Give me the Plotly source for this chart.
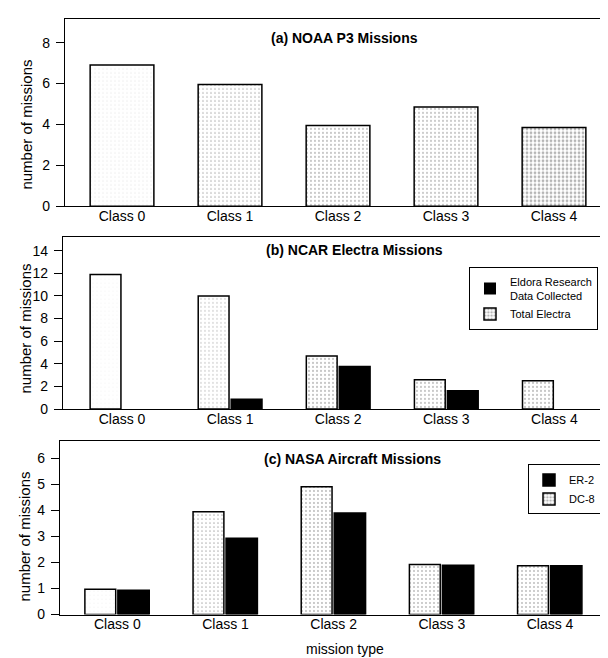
import plotly.graph_objects as go

categories = ["Class 0", "Class 1", "Class 2", "Class 3", "Class 4"]
p3_missions = [6.9, 5.95, 3.95, 4.85, 3.85]
electra_total = [11.9, 10.0, 4.7, 2.6, 2.5]
eldora_collected = [0, 0.87, 3.77, 1.62, 0]
dc8_missions = [0.97, 3.94, 4.9, 1.92, 1.87]
er2_missions = [0.93, 2.93, 3.9, 1.89, 1.87]
yticks_a = [0, 2, 4, 6, 8]
yticks_b = [0, 2, 4, 6, 8, 10, 12, 14]
yticks_c = [0, 1, 2, 3, 4, 5, 6]

FONT = "Liberation Sans, Arial, sans-serif"
W, H = 608, 658

def px_y(p):
    return 1 - p / H

def dotted(solidity):
    return dict(shape=".", fgcolor="#6e6e6e", bgcolor="white", size=4, solidity=solidity)

def outline(values):
    return [0 if v == 0 else 1.5 for v in values]

fig = go.Figure()

# panel (a)
fig.add_trace(go.Bar(
    x=categories, y=p3_missions, xaxis="x", yaxis="y", width=0.59, offset=-0.295,
    marker=dict(color="white", line=dict(color="black", width=1.5),
                pattern=dotted([0.04, 0.14, 0.18, 0.16, 0.38])),
    showlegend=False, name="P3"))

# panel (b)
fig.add_trace(go.Bar(
    x=categories, y=electra_total, xaxis="x2", yaxis="y2", width=0.285, offset=-0.295,
    marker=dict(color="white", line=dict(color="black", width=1.5),
                pattern=dotted([0.02, 0.1, 0.2, 0.18, 0.2])),
    name="Total Electra", legend="legend"))
fig.add_trace(go.Bar(
    x=categories, y=eldora_collected, xaxis="x2", yaxis="y2", width=0.285, offset=0.01,
    marker=dict(color="black", line=dict(color="black", width=outline(eldora_collected))),
    name="Eldora Research<br>Data Collected", legend="legend"))

# panel (c)
fig.add_trace(go.Bar(
    x=categories, y=dc8_missions, xaxis="x3", yaxis="y3", width=0.285, offset=-0.3,
    marker=dict(color="white", line=dict(color="black", width=1.5),
                pattern=dotted([0.02, 0.14, 0.18, 0.16, 0.16])),
    name="DC-8", legend="legend2"))
fig.add_trace(go.Bar(
    x=categories, y=er2_missions, xaxis="x3", yaxis="y3", width=0.29, offset=0.005,
    marker=dict(color="black", line=dict(color="black", width=1.5)),
    name="ER-2", legend="legend2"))

xcommon = dict(showgrid=False, zeroline=False, showline=True, linecolor="black", linewidth=1.3,
               mirror=True, ticks="", ticklabelstandoff=-3,
               tickfont=dict(family=FONT, size=14, color="black"))
ycommon = dict(showgrid=False, zeroline=False, showline=True, linecolor="black", linewidth=1.3,
               mirror=False, ticks="outside", ticklen=8, tickcolor="black", tickwidth=1.2,
               ticklabelstandoff=3,
               tickfont=dict(family=FONT, size=14, color="black"))

legend_common = dict(xanchor="right", yanchor="top", bordercolor="black", borderwidth=1,
                     bgcolor="white", traceorder="reversed", itemwidth=30,
                     font=dict(family=FONT, size=11, color="black"), tracegroupgap=0)

fig.update_layout(
    width=W, height=H, margin=dict(l=0, r=0, t=0, b=0),
    paper_bgcolor="white", plot_bgcolor="white", barmode="group",
    font=dict(family=FONT, color="black"),
    xaxis=dict(domain=[57 / W, 1], range=[-0.528, 4.574], anchor="y", **xcommon),
    yaxis=dict(domain=[px_y(200.7), px_y(11)], range=[0, 9.16], anchor="x",
               tickvals=yticks_a, **ycommon),
    xaxis2=dict(domain=[55 / W, 1], range=[-0.546, 4.57], anchor="y2", **xcommon),
    yaxis2=dict(domain=[px_y(406), px_y(231.7)], range=[0, 15.22], anchor="x2",
                tickvals=yticks_b, **ycommon),
    xaxis3=dict(domain=[52 / W, 1], range=[-0.53, 4.61], anchor="y3", **xcommon),
    yaxis3=dict(domain=[px_y(614), px_y(438.3)], range=[0, 6.66], anchor="x3",
                tickvals=yticks_c, **ycommon),
    legend=dict(x=590 / W, y=px_y(262), **legend_common),
    legend2=dict(x=593 / W, y=px_y(462), **legend_common),
)

annotations = [
    dict(text="<b>(a) NOAA P3 Missions</b>", x=336 / W, y=px_y(30.5), size=14),
    dict(text="<b>(b) NCAR Electra Missions</b>", x=346 / W, y=px_y(245), size=14),
    dict(text="<b>(c) NASA Aircraft Missions</b>", x=344 / W, y=px_y(457), size=14),
    dict(text="mission type", x=337 / W, y=px_y(649), size=14),
]
for a in annotations:
    fig.add_annotation(text=a["text"], x=a["x"], y=a["y"], xref="paper", yref="paper",
                       showarrow=False, xanchor="center", yanchor="middle",
                       font=dict(family=FONT, size=a["size"], color="black"))

for xc, yc in [(19, 118), (17.5, 325), (16, 535)]:
    fig.add_annotation(text="number of missions", x=xc / W, y=px_y(yc), xref="paper", yref="paper",
                       showarrow=False, textangle=-90, xanchor="center", yanchor="middle",
                       font=dict(family=FONT, size=15, color="black"))

fig.write_html("out.html")
